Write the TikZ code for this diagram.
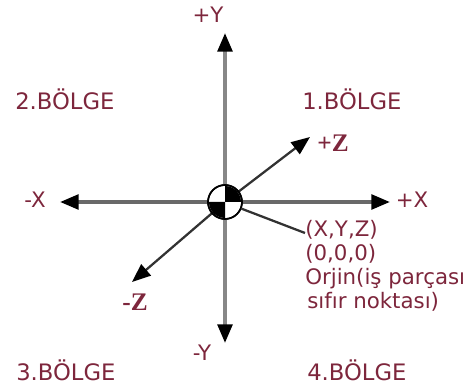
\documentclass[tikz,border=0pt]{standalone}
\usepackage{fontspec}
\setmainfont{DejaVu Sans}
\newfontfamily\zfont{Liberation Serif}
\usetikzlibrary{arrows.meta}
\definecolor{txt}{RGB}{125,38,60}
\definecolor{axgray}{RGB}{135,135,135}
\definecolor{xgray}{RGB}{105,105,105}
\definecolor{zline}{RGB}{50,50,50}
\tikzset{
  lbl/.style={text=txt, font=\fontsize{16}{18}\selectfont, inner sep=0pt},
  reg/.style={text=txt, font=\fontsize{17}{19}\selectfont, inner sep=0pt, anchor=west},
  zlbl/.style={text=txt, font=\zfont\bfseries\fontsize{19}{21}\selectfont, inner sep=0pt},
  zaxis/.style={draw=zline, line width=1.7pt},
  tip/.style={-{Triangle[length=14pt,width=11pt,fill=black,color=black]}},
}
\begin{document}
\begin{tikzpicture}[x=0.75pt,y=0.75pt]
\useasboundingbox (0,0) rectangle (469,-385);
% coordinates
\coordinate (ytop) at (225,-33);
\coordinate (ybot) at (225,-343);
\coordinate (xleft) at (60,-202);
\coordinate (xright) at (390,-202);
\coordinate (zpos) at (310,-137);
\coordinate (zneg) at (132,-282);
\coordinate (orig) at (225,-202);
\coordinate (lead) at (305,-233);
% axes
\draw[draw=axgray, line width=2.8pt, tip] (orig) -- (ytop);
\draw[draw=axgray, line width=2.8pt, tip] (orig) -- (ybot);
\draw[draw=xgray, line width=2.6pt, tip] (orig) -- (xleft);
\draw[draw=xgray, line width=2.6pt, tip] (orig) -- (xright);
\draw[zaxis, tip] (orig) -- (zpos);
\draw[zaxis, tip] (orig) -- (zneg);
% origin symbol
\node[circle, draw=black, line width=1.2pt, fill=white, minimum size=34*0.75pt, inner sep=0pt] (O) at (orig) {};
\fill[black] (orig) -- ++(16,0) arc[start angle=0,end angle=90,radius=16] -- cycle;
\fill[black] (orig) -- ++(-16,0) arc[start angle=180,end angle=270,radius=16] -- cycle;
\draw[black, line width=1.2pt] (orig) circle[radius=17];
% leader
\draw[zline, line width=1.7pt] (O.-22) -- (lead);
% labels
\node[lbl] (ly) at (208,-15) {+Y};
\node[lbl] (lny) at (202,-353) {-Y};
\node[lbl] (lnx) at (35,-200) {-X};
\node[lbl] (lx) at (412,-200) {+X};
\node[zlbl] (lz) at (333,-143) {+Z};
\node[zlbl] (lnz) at (135,-302) {-Z};
\node[reg] (b2) at (15,-99) {2.BÖLGE};
\node[reg] (b1) at (302,-99) {1.BÖLGE};
\node[reg] (b3) at (16,-370) {3.BÖLGE};
\node[reg] (b4) at (307,-370) {4.BÖLGE};
\node[lbl, anchor=west] (t1) at (305,-230) {(X,Y,Z)};
\node[lbl, anchor=west] (t2) at (305,-254) {(0,0,0)};
\node[lbl, anchor=west] (t3) at (305,-279) {Orjin(iş parçası};
\node[lbl, anchor=west] (t4) at (307,-302) {sıfır noktası)};
\end{tikzpicture}
\end{document}
